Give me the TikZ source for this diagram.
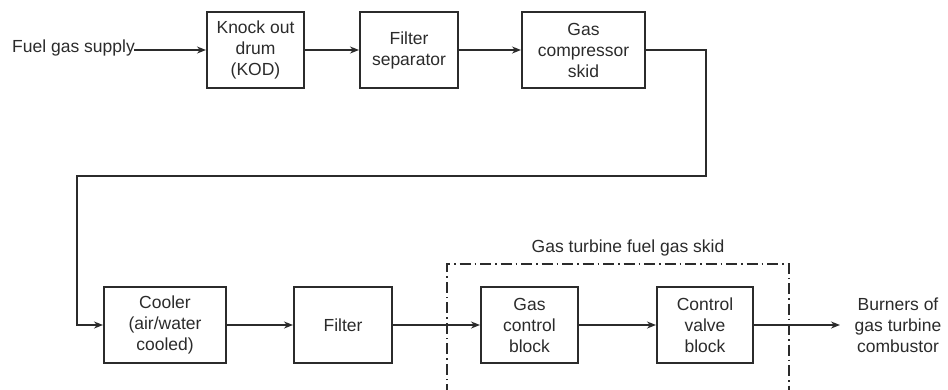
\documentclass[tikz,border=0pt]{standalone}
\usepackage{fontspec}
\setmainfont{Liberation Sans}
\usetikzlibrary{arrows.meta}
\definecolor{ink}{HTML}{2B2B2B}
\begin{document}
\begin{tikzpicture}[x=1pt,y=-1pt,
  font=\fontsize{17.5}{21}\selectfont,
  blk/.style={draw=ink,line width=2pt,minimum height=76pt,align=center,inner sep=0pt,text=ink},
  lbl/.style={align=center,inner sep=0pt,text=ink},
  flow/.style={draw=ink,line width=1.5pt,-{Stealth[length=9pt,width=7pt]}},
  skid/.style={draw=ink,line width=1.3pt,dash pattern=on 11pt off 4pt on 1.5pt off 4pt}]
\useasboundingbox (0,0) rectangle (948,389);
\node[blk,minimum width=97pt] (kod) at (255.5,50) {Knock out\\drum\\(KOD)};
\node[blk,minimum width=98pt] (fsep) at (409,50) {Filter\\separator};
\node[blk,minimum width=123pt] (comp) at (583.5,50) {Gas\\compressor\\skid};
\node[blk,minimum width=122pt] (cool) at (165,325) {Cooler\\(air/water\\cooled)};
\node[blk,minimum width=98pt] (filt) at (343,325) {Filter};
\node[blk,minimum width=97pt] (gcb) at (529.5,325) {Gas\\control\\block};
\node[blk,minimum width=96pt] (cvb) at (705,325) {Control\\valve\\block};
\node[lbl,anchor=east] (sup) at (135,48) {Fuel gas supply};
\node[lbl] (burn) at (898,325) {Burners of\\gas turbine\\combustor};
\node[lbl] (skidlbl) at (628,248) {Gas turbine fuel gas skid};
\coordinate (c1) at (706,50);
\coordinate (c2) at (706,176);
\coordinate (c3) at (77,176);
\coordinate (c4) at (77,325);
\coordinate (b1) at (447,395);
\coordinate (b2) at (447,264);
\coordinate (b3) at (789,264);
\coordinate (b4) at (789,395);
\coordinate (sup0) at (134,50);
\coordinate (burn0) at (840,325);
\draw[skid] (b1) -- (b2) -- (b3) -- (b4);
\draw[flow] (sup0) -- (kod.west);
\draw[flow] (kod) -- (fsep);
\draw[flow] (fsep) -- (comp);
\draw[flow] (comp.east) -- (c1) -- (c2) -- (c3) -- (c4) -- (cool.west);
\draw[flow] (cool) -- (filt);
\draw[flow] (filt) -- (gcb);
\draw[flow] (gcb) -- (cvb);
\draw[flow] (cvb.east) -- (burn0);
\end{tikzpicture}
\end{document}
